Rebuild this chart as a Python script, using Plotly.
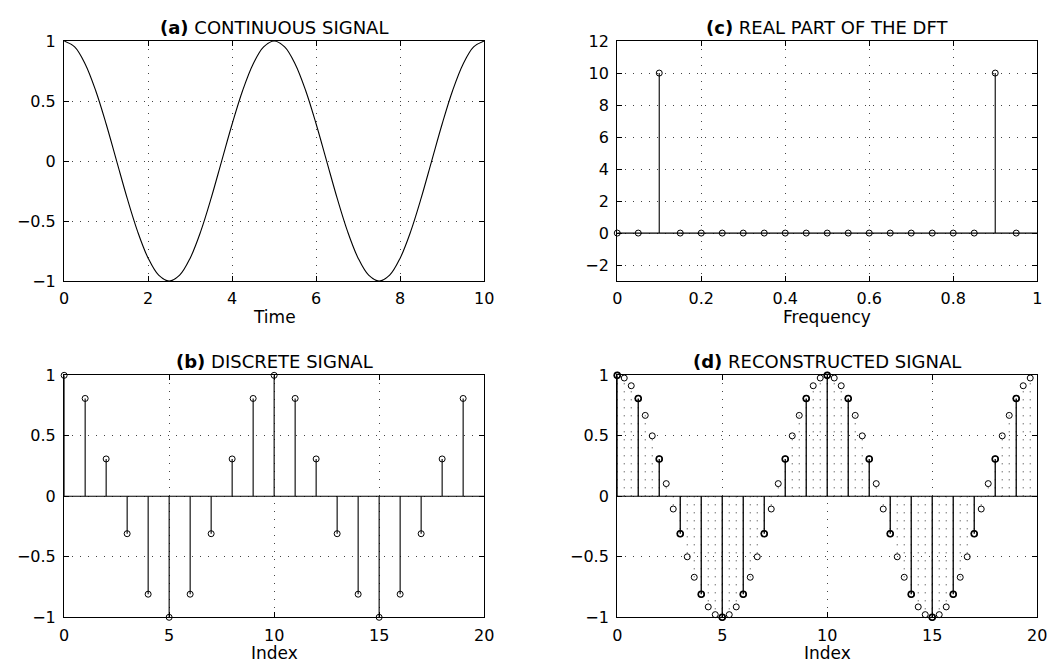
import plotly.graph_objects as go

# ---------------- data ----------------
# (a) continuous signal, sampled every 0.25 s over 0..10
time_a = [i * 0.25 for i in range(41)]
cont_a = [1.0, 0.951, 0.809, 0.588, 0.309, 0.0, -0.309, -0.588, -0.809, -0.951,
          -1.0, -0.951, -0.809, -0.588, -0.309, 0.0, 0.309, 0.588, 0.809, 0.951,
          1.0, 0.951, 0.809, 0.588, 0.309, 0.0, -0.309, -0.588, -0.809, -0.951,
          -1.0, -0.951, -0.809, -0.588, -0.309, 0.0, 0.309, 0.588, 0.809, 0.951,
          1.0]

# (b) discrete signal
index_b = list(range(20))
disc_b = [1.0, 0.809, 0.309, -0.309, -0.809, -1.0, -0.809, -0.309, 0.309, 0.809,
          1.0, 0.809, 0.309, -0.309, -0.809, -1.0, -0.809, -0.309, 0.309, 0.809]

# (c) real part of the DFT
freq_c = [k * 0.05 for k in range(20)]
dft_c = [0, 0, 10, 0, 0, 0, 0, 0, 0, 0, 0, 0, 0, 0, 0, 0, 0, 0, 10, 0]

# (d) reconstructed signal (interpolated every 1/3 sample)
index_d = [k / 3 for k in range(60)]
recon_d = [1.0, 0.978, 0.914, 0.809, 0.669, 0.5, 0.309, 0.105, -0.105, -0.309,
           -0.5, -0.669, -0.809, -0.914, -0.978, -1.0, -0.978, -0.914, -0.809, -0.669,
           -0.5, -0.309, -0.105, 0.105, 0.309, 0.5, 0.669, 0.809, 0.914, 0.978,
           1.0, 0.978, 0.914, 0.809, 0.669, 0.5, 0.309, 0.105, -0.105, -0.309,
           -0.5, -0.669, -0.809, -0.914, -0.978, -1.0, -0.978, -0.914, -0.809, -0.669,
           -0.5, -0.309, -0.105, 0.105, 0.309, 0.5, 0.669, 0.809, 0.914, 0.978]

titles = ["CONTINUOUS SIGNAL", "REAL PART OF THE DFT", "DISCRETE SIGNAL", "RECONSTRUCTED SIGNAL"]
letters = ["(a)", "(c)", "(b)", "(d)"]
xlabels = ["Time", "Frequency", "Index", "Index"]

# ---------------- layout geometry ----------------
W, H = 1063, 672
colx = [(60, 486), (621, 1047)]
rowy = [(33, 280), (377, 626)]

FONT = "DejaVu Sans, Liberation Sans, Arial, sans-serif"
BLACK = "black"


def px_x(v):
    return v / W


def px_y(v):
    return 1 - v / H


def stems(xs, ys):
    sx, sy = [], []
    for x, y in zip(xs, ys):
        sx += [x, x, None]
        sy += [0, y, None]
    return sx, sy


MK = dict(symbol="circle-open", size=6, color=BLACK, line=dict(width=1, color=BLACK))

fig = go.Figure()

# (a)
fig.add_trace(go.Scatter(x=time_a, y=cont_a, mode="lines", line=dict(color=BLACK, width=1.1, shape="spline"),
                         xaxis="x", yaxis="y", showlegend=False, hoverinfo="skip", cliponaxis=False))

# (c)
sx, sy = stems(freq_c, dft_c)
fig.add_trace(go.Scatter(x=[0, 1], y=[0, 0], mode="lines", line=dict(color=BLACK, width=1.1),
                         xaxis="x2", yaxis="y2", showlegend=False))
fig.add_trace(go.Scatter(x=sx, y=sy, mode="lines", line=dict(color=BLACK, width=1.1),
                         xaxis="x2", yaxis="y2", showlegend=False))
fig.add_trace(go.Scatter(x=freq_c, y=dft_c, mode="markers", marker=MK, cliponaxis=False,
                         xaxis="x2", yaxis="y2", showlegend=False))

# (b)
sx, sy = stems(index_b, disc_b)
fig.add_trace(go.Scatter(x=[0, 20], y=[0, 0], mode="lines", line=dict(color=BLACK, width=1.1),
                         xaxis="x3", yaxis="y3", showlegend=False))
fig.add_trace(go.Scatter(x=sx, y=sy, mode="lines", line=dict(color=BLACK, width=1.1),
                         xaxis="x3", yaxis="y3", showlegend=False))
fig.add_trace(go.Scatter(x=index_b, y=disc_b, mode="markers", marker=MK, cliponaxis=False,
                         xaxis="x3", yaxis="y3", showlegend=False))

# (d)
sx, sy = stems(index_d, recon_d)
fig.add_trace(go.Scatter(x=sx, y=sy, mode="lines", line=dict(color="#333333", width=1, dash="1px,7px"),
                         xaxis="x4", yaxis="y4", showlegend=False))
fig.add_trace(go.Scatter(x=[0, 20], y=[0, 0], mode="lines", line=dict(color=BLACK, width=1.1),
                         xaxis="x4", yaxis="y4", showlegend=False))
fig.add_trace(go.Scatter(x=index_d, y=recon_d, mode="markers", marker=MK, cliponaxis=False,
                         xaxis="x4", yaxis="y4", showlegend=False))
sx, sy = stems(index_b, disc_b)
fig.add_trace(go.Scatter(x=sx, y=sy, mode="lines", line=dict(color=BLACK, width=1.3),
                         xaxis="x4", yaxis="y4", showlegend=False))
fig.add_trace(go.Scatter(x=index_b, y=disc_b, mode="markers", cliponaxis=False,
                         marker=dict(symbol="circle-open", size=6, color=BLACK, line=dict(width=1.6, color=BLACK)),
                         xaxis="x4", yaxis="y4", showlegend=False))

common = dict(showline=True, linecolor=BLACK, linewidth=1.3, mirror="ticks", ticks="inside", ticklen=5,
              tickcolor=BLACK, tickwidth=1, showgrid=True, gridcolor="#444444", griddash="1px,7px",
              gridwidth=1, zeroline=False, tickfont=dict(family=FONT, size=16, color=BLACK))

axis_specs = [
    ("xaxis", "yaxis", 0, 0, [0, 10], 2, [-1, 1], 0.5, "x", "y"),
    ("xaxis2", "yaxis2", 1, 0, [0, 1], 0.2, [-3, 12], 2, "x2", "y2"),
    ("xaxis3", "yaxis3", 0, 1, [0, 20], 5, [-1, 1], 0.5, "x3", "y3"),
    ("xaxis4", "yaxis4", 1, 1, [0, 20], 5, [-1, 1], 0.5, "x4", "y4"),
]

layout = dict(width=W, height=H, margin=dict(l=0, r=0, t=0, b=0), paper_bgcolor="white",
              plot_bgcolor="white", showlegend=False)
annotations = []
for i, (xa, ya, c, r, xr, xd, yr, yd, xid, yid) in enumerate(axis_specs):
    x0, x1 = colx[c]
    y0, y1 = rowy[r]
    layout[xa] = dict(common, domain=[px_x(x0), px_x(x1)], range=xr, dtick=xd, tick0=0, anchor=yid,
                      ticklabelstandoff=3)
    ytick0 = -2 if xa == "xaxis2" else yr[0]
    layout[ya] = dict(common, domain=[px_y(y1), px_y(y0)], range=yr, dtick=yd, tick0=ytick0, anchor=xid,
                      ticklabelstandoff=4)
    cx = px_x((x0 + x1) / 2)
    annotations.append(dict(text="<b>" + letters[i] + "</b> " + titles[i], x=cx, y=px_y(y0 - 14),
                            xref="paper", yref="paper", xanchor="center", yanchor="middle", showarrow=False,
                            font=dict(family=FONT, size=18, color=BLACK)))
    annotations.append(dict(text=xlabels[i], x=cx, y=px_y(y1 + 37), xref="paper", yref="paper",
                            xanchor="center", yanchor="middle", showarrow=False,
                            font=dict(family=FONT, size=17, color=BLACK)))

layout["annotations"] = annotations
fig.update_layout(**layout)
fig.write_html("out.html")
